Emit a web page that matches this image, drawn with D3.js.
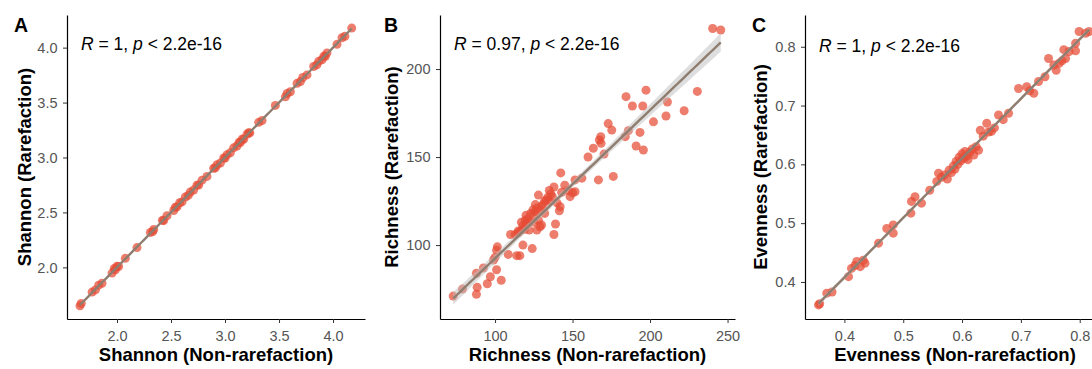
<!DOCTYPE html>
<html>
<head>
<meta charset="utf-8">
<script src="https://cdn.jsdelivr.net/npm/d3@7"></script>
<style>
  body { margin: 0; background: #fff; }
  text { font-family: "Liberation Sans", Arial, sans-serif; }
</style>
</head>
<body>
<svg id="fig" width="1092" height="369"></svg>
<script>
// Shannon: non-rarefaction (x) vs rarefaction (y)
var shannonNon = [1.657,1.669,1.769,1.800,1.830,1.861,1.954,1.975,1.985,2.000,2.015,2.077,2.185,2.309,2.330,2.340,
  2.420,2.432,2.463,2.525,2.540,2.556,2.580,2.602,2.633,2.660,2.679,2.710,2.740,2.756,2.787,2.833,2.895,2.910,2.926,
  2.957,2.988,3.000,3.019,3.049,3.080,3.111,3.130,3.142,3.160,3.173,3.204,3.219,3.230,3.312,3.343,3.466,3.559,3.575,
  3.605,3.667,3.698,3.720,3.759,3.821,3.850,3.867,3.898,3.915,3.929,3.944,4.037,4.083,4.110,4.173];
var shannonRare = [1.650,1.672,1.775,1.795,1.838,1.855,1.948,1.990,1.978,2.010,2.008,2.082,2.180,2.318,2.325,2.345,
  2.428,2.425,2.470,2.518,2.548,2.550,2.588,2.596,2.640,2.655,2.686,2.704,2.748,2.750,2.794,2.828,2.902,2.905,2.934,
  2.950,2.995,2.994,3.026,3.043,3.088,3.105,3.138,3.136,3.168,3.166,3.212,3.225,3.224,3.320,3.336,3.474,3.552,3.582,
  3.598,3.675,3.691,3.728,3.752,3.828,3.843,3.875,3.890,3.922,3.922,3.952,4.030,4.090,4.104,4.178];

// Richness: non-rarefaction (x) vs rarefaction (y)
var richnessNon = [73,79,88,88.5,88,92.5,95,97,101,104,99,100,101,101.5,108.5,110,114,116,118,113,115,117,117,118,
  119.5,120,121,122,123,124,124.5,125,126,127,127,128,129,129,130,130,131,132,132,133,134,135,136,137,138,138,139,140,
  141.5,142,142.4,143,145,147,148.4,150,151.6,151.6,156,160,163.4,166.7,167.3,168.2,168.4,170.3,173,175.3,176.3,184,
  184.5,186,188.6,191,193.5,195.3,195.7,197.4,202.2,210.3,211.2,222,230.5,240.4,245.6,120,122,125,128,115,119,126,135];
var richnessRare = [71,75,72,76,84,87,78,82,86,80,91.5,93,97,99,94.7,106,94,94,100,106,108,108.5,113,111,
  114,117,115,108.5,118,98,120,117,119,108.5,121,128.4,110.4,120,111.4,122,123,118,125,125.6,127,131,129,127.5,133,106,
  112,124,119.5,121.8,141,130,134,131,127.5,129.7,130.3,137,138,150,155,137,159.7,161.6,157.8,151.7,169,165.3,139,161.6,
  184.3,165,179,156.3,164,179,154,188,170,173.3,181.3,176.3,187.3,223,222.2,112,113,113,114,107,109,123,125];

// Evenness: non-rarefaction (x) vs rarefaction (y)
var evennessNon = [0.356,0.358,0.370,0.379,0.407,0.412,0.418,0.421,0.427,0.432,0.435,0.458,0.472,0.483,0.483,0.513,
  0.514,0.520,0.531,0.545,0.557,0.560,0.565,0.570,0.575,0.578,0.582,0.585,0.588,0.590,0.593,0.595,0.598,0.600,0.603,
  0.605,0.608,0.610,0.613,0.617,0.620,0.624,0.628,0.631,0.636,0.642,0.645,0.650,0.655,0.662,0.670,0.679,0.696,0.710,
  0.715,0.722,0.730,0.741,0.747,0.756,0.760,0.765,0.770,0.773,0.776,0.782,0.793,0.793,0.799,0.810,0.816];
var evennessRare = [0.361,0.363,0.381,0.383,0.409,0.423,0.428,0.435,0.426,0.437,0.432,0.466,0.491,0.483,0.497,0.517,
  0.537,0.545,0.534,0.556,0.571,0.585,0.578,0.582,0.575,0.590,0.586,0.597,0.592,0.605,0.600,0.612,0.606,0.618,0.610,
  0.622,0.614,0.608,0.620,0.626,0.616,0.630,0.624,0.658,0.648,0.670,0.655,0.656,0.662,0.684,0.676,0.687,0.729,0.732,
  0.725,0.721,0.741,0.749,0.780,0.769,0.760,0.772,0.776,0.795,0.780,0.792,0.806,0.793,0.826,0.823,0.826];

var shannonTicks = [2.0, 2.5, 3.0, 3.5, 4.0];
var richnessTicks = [100, 150, 200, 250];
var richnessTicksY = [100, 150, 200];
var evennessTicks = [0.4, 0.5, 0.6, 0.7, 0.8];

var svg = d3.select('#fig');
var TOP = 15, BOTTOM = 319;
var T_CRIT = 1.98;

// least squares fit + standard error of the mean prediction
function fit(xs, ys) {
  var n = xs.length;
  var mx = d3.mean(xs), my = d3.mean(ys);
  var sxx = 0, sxy = 0;
  xs.forEach(function(x, i) { sxx += (x - mx) * (x - mx); sxy += (x - mx) * (ys[i] - my); });
  var b = sxy / sxx, a = my - b * mx;
  var sse = 0;
  xs.forEach(function(x, i) { var r = ys[i] - (a + b * x); sse += r * r; });
  var s = Math.sqrt(sse / (n - 2));
  return {
    predict: function(x) { return a + b * x; },
    se: function(x) { return s * Math.sqrt(1 / n + (x - mx) * (x - mx) / sxx); }
  };
}

function panel(cfg) {
  var g = svg.append('g');
  var x = d3.scaleLinear().domain(cfg.xDom).range([cfg.left, cfg.right]);
  var y = d3.scaleLinear().domain(cfg.yDom).range([BOTTOM, TOP]);
  var pts = d3.zip(cfg.xs, cfg.ys);

  g.selectAll('circle').data(pts).join('circle')
    .attr('cx', function(d) { return x(d[0]); })
    .attr('cy', function(d) { return y(d[1]); })
    .attr('r', 4.5)
    .attr('fill', '#E64B35')
    .attr('fill-opacity', 0.72);

  var m = fit(cfg.xs, cfg.ys);
  var ext = d3.extent(cfg.xs);
  var grid = d3.range(0, 81).map(function(i) { return ext[0] + (ext[1] - ext[0]) * i / 80; });

  g.append('path')
    .datum(grid)
    .attr('fill', '#bdbdbd')
    .attr('fill-opacity', 0.5)
    .attr('d', d3.area()
      .x(function(d) { return x(d); })
      .y0(function(d) { return y(m.predict(d) - T_CRIT * m.se(d)); })
      .y1(function(d) { return y(m.predict(d) + T_CRIT * m.se(d)); }));

  g.append('path')
    .datum(grid)
    .attr('fill', 'none')
    .attr('stroke', '#8f7e70')
    .attr('stroke-width', 2.4)
    .attr('d', d3.line()
      .x(function(d) { return x(d); })
      .y(function(d) { return y(m.predict(d)); }));

  var xa = g.append('g').attr('transform', 'translate(0,' + BOTTOM + ')')
    .call(d3.axisBottom(x).tickValues(cfg.xTicks).tickFormat(cfg.fmt).tickSize(4).tickSizeOuter(0).tickPadding(8));
  var ya = g.append('g').attr('transform', 'translate(' + cfg.left + ',0)')
    .call(d3.axisLeft(y).tickValues(cfg.yTicks).tickFormat(cfg.fmt).tickSize(4).tickSizeOuter(0).tickPadding(5.5));
  [xa, ya].forEach(function(a) {
    a.select('.domain').attr('stroke', '#000').attr('stroke-width', 1.2);
    a.selectAll('.tick line').attr('stroke', '#333').attr('stroke-width', 1);
    a.selectAll('.tick text').attr('fill', '#555').style('font-size', '14.5px');
  });

  g.append('text')
    .attr('x', (cfg.left + cfg.right) / 2).attr('y', 361)
    .attr('text-anchor', 'middle')
    .style('font-size', '18.5px').style('font-weight', 'bold')
    .text(cfg.xTitle);
  g.append('text')
    .attr('transform', 'translate(' + cfg.yTitleX + ',' + (TOP + BOTTOM) / 2 + ') rotate(-90)')
    .attr('text-anchor', 'middle')
    .style('font-size', '18.5px').style('font-weight', 'bold')
    .text(cfg.yTitle);

  g.append('text')
    .attr('x', cfg.tagX).attr('y', 32)
    .style('font-size', '19.5px').style('font-weight', 'bold')
    .text(cfg.tag);

  var ann = g.append('text')
    .attr('x', cfg.left + 14).attr('y', cfg.annY)
    .style('font-size', '17.5px');
  ann.append('tspan').style('font-style', 'italic').text('R');
  ann.append('tspan').text(' = ' + cfg.r + ', ');
  ann.append('tspan').style('font-style', 'italic').text('p');
  ann.append('tspan').text(' < 2.2e-16');
}

var f1 = d3.format('.1f');

panel({ tag: 'A', tagX: 14, xs: shannonNon, ys: shannonRare, r: '1',
  left: 67, right: 365, xDom: [1.537, 4.296], yDom: [1.53, 4.297],
  xTicks: shannonTicks, yTicks: shannonTicks, fmt: f1, annY: 50,
  xTitle: 'Shannon (Non-rarefaction)', yTitle: 'Shannon (Rarefaction)', yTitleX: 30.5 });

panel({ tag: 'B', tagX: 384, xs: richnessNon, ys: richnessRare, r: '0.97',
  left: 440, right: 735, xDom: [64.5, 254.8], yDom: [58, 230.7],
  xTicks: richnessTicks, yTicks: richnessTicksY, fmt: d3.format('d'), annY: 49.5,
  xTitle: 'Richness (Non-rarefaction)', yTitle: 'Richness (Rarefaction)', yTitleX: 398 });

panel({ tag: 'C', tagX: 752, xs: evennessNon, ys: evennessRare, r: '1',
  left: 805, right: 1105, xDom: [0.333, 0.843], yDom: [0.337, 0.854],
  xTicks: evennessTicks, yTicks: evennessTicks, fmt: f1, annY: 51.5,
  xTitle: 'Evenness (Non-rarefaction)', yTitle: 'Evenness (Rarefaction)', yTitleX: 767 });
</script>
</body>
</html>
